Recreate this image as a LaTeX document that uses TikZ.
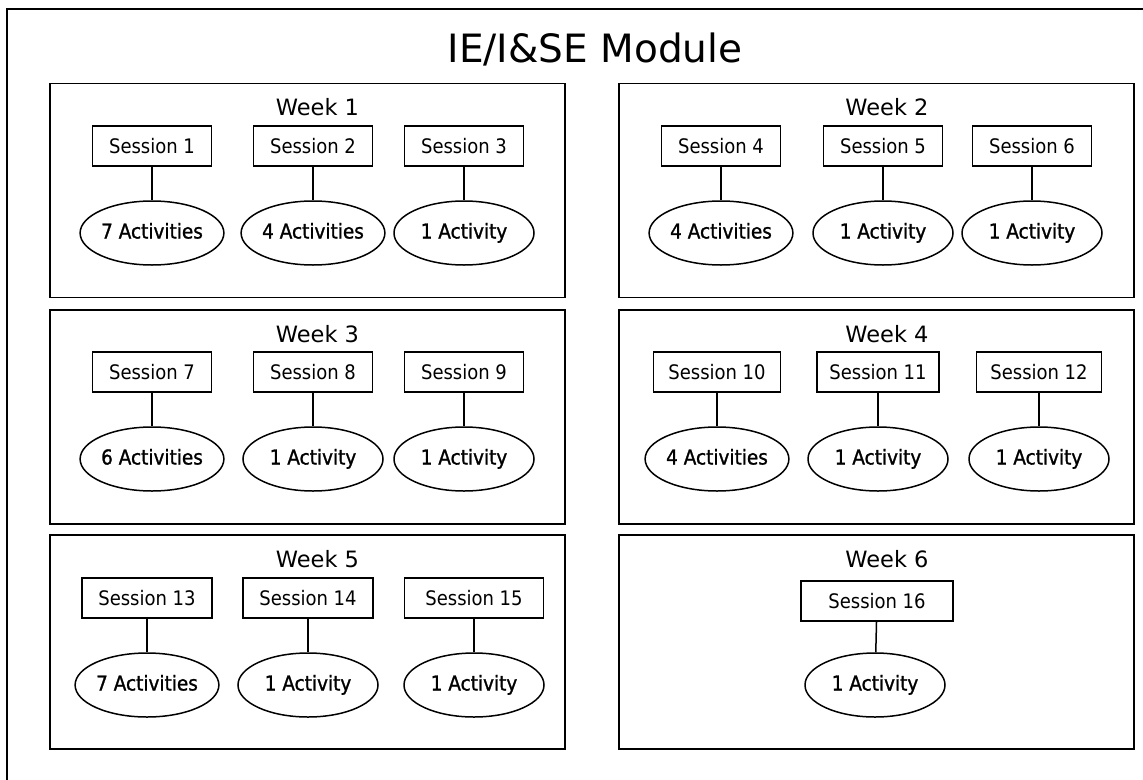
\documentclass[tikz,border=0pt]{standalone}
\usepackage{fontspec}
\setmainfont{DejaVu Sans}
\newfontfamily\sesfont{DejaVu Sans Condensed}
\newfontfamily\actfont[FakeBold=1.2]{DejaVu Sans Condensed}
\usepackage{tikz}
\usetikzlibrary{shapes.geometric}

\begin{document}
\begin{tikzpicture}[x=1pt, y=-1pt, line width=1.5pt,
   wk/.style={draw, minimum width=515pt, minimum height=214pt, inner sep=0pt},
   wl/.style={anchor=base, font=\fontsize{22.5}{26}\selectfont},
   ses/.style={draw, fill=white, minimum width=119pt, minimum height=40pt, inner sep=0pt,
     text height=15pt, text depth=0pt, font=\sesfont\fontsize{20}{24}\selectfont},
   act/.style={draw, ellipse, fill=white, minimum width=140pt, minimum height=64pt, inner sep=0pt,
     text height=15pt, text depth=4pt, font=\actfont\fontsize{20.5}{24}\selectfont}]
  \useasboundingbox (0,0) rectangle (1143,779);
  \clip (0,0) rectangle (1143,779);
  % module frame, runs off the page on the right and bottom
  \draw[line width=2pt] (7,9) rectangle (1170,800);
  \node[anchor=base, font=\fontsize{39}{44}\selectfont] (title) at (595,62) {IE/I\&SE Module};

  % week boxes
  \node[wk] (w1) at (307.5,190.5) {}; \node[wk] (w2) at (876.5,190.5) {};
  \node[wk] (w3) at (307.5,417) {};   \node[wk] (w4) at (876.5,417) {};
  \node[wk] (w5) at (307.5,642) {};   \node[wk] (w6) at (876.5,642) {};
  \node[wl] (l1) at (317.5,115) {Week 1}; \node[wl] (l2) at (887,115) {Week 2};
  \node[wl] (l3) at (317.5,342) {Week 3}; \node[wl] (l4) at (887,342) {Week 4};
  \node[wl] (l5) at (317.5,567) {Week 5}; \node[wl] (l6) at (887,567) {Week 6};

  % week 1
  \node[ses] (s1) at (152,146) {Session 1}; \node[act] (a1) at (152,233) {7 Activities};
  \node[ses] (s2) at (313,146) {Session 2}; \node[act] (a2) at (313,233) {4 Activities};
  \node[ses] (s3) at (464,146) {Session 3}; \node[act] (a3) at (464,233) {1 Activity};
  % week 2
  \node[ses] (s4) at (721,146) {Session 4}; \node[act] (a4) at (721,233) {4 Activities};
  \node[ses] (s5) at (883,146) {Session 5}; \node[act] (a5) at (883,233) {1 Activity};
  \node[ses] (s6) at (1032,146) {Session 6}; \node[act] (a6) at (1032,233) {1 Activity};
  % week 3
  \node[ses] (s7) at (152,372) {Session 7}; \node[act] (a7) at (152,459) {6 Activities};
  \node[ses] (s8) at (313,372) {Session 8}; \node[act] (a8) at (313,459) {1 Activity};
  \node[ses] (s9) at (464,372) {Session 9}; \node[act] (a9) at (464,459) {1 Activity};
  % week 4
  \node[ses, minimum width=127pt] (s10) at (717,372) {Session 10}; \node[act] (a10) at (717,459) {4 Activities};
  \node[ses, minimum width=122pt] (s11) at (878,372) {Session 11}; \node[act] (a11) at (878,459) {1 Activity};
  \node[ses, minimum width=125pt] (s12) at (1039,372) {Session 12}; \node[act] (a12) at (1039,459) {1 Activity};
  % week 5
  \node[ses, minimum width=130pt] (s13) at (147,598) {Session 13}; \node[act] (a13) at (147,685) {7 Activities};
  \node[ses, minimum width=130pt] (s14) at (308,598) {Session 14}; \node[act] (a14) at (308,685) {1 Activity};
  \node[ses, minimum width=139pt] (s15) at (474,598) {Session 15}; \node[act] (a15) at (474,685) {1 Activity};
  % week 6
  \node[ses, minimum width=152pt] (s16) at (877,601) {Session 16}; \node[act] (a16) at (875,685) {1 Activity};

  \draw (s1) -- (a1); \draw (s2) -- (a2); \draw (s3) -- (a3);
  \draw (s4) -- (a4); \draw (s5) -- (a5); \draw (s6) -- (a6);
  \draw (s7) -- (a7); \draw (s8) -- (a8); \draw (s9) -- (a9);
  \draw (s10) -- (a10); \draw (s11) -- (a11); \draw (s12) -- (a12);
  \draw (s13) -- (a13); \draw (s14) -- (a14); \draw (s15) -- (a15);
  \draw (s16) -- (a16);
\end{tikzpicture}
\end{document}
